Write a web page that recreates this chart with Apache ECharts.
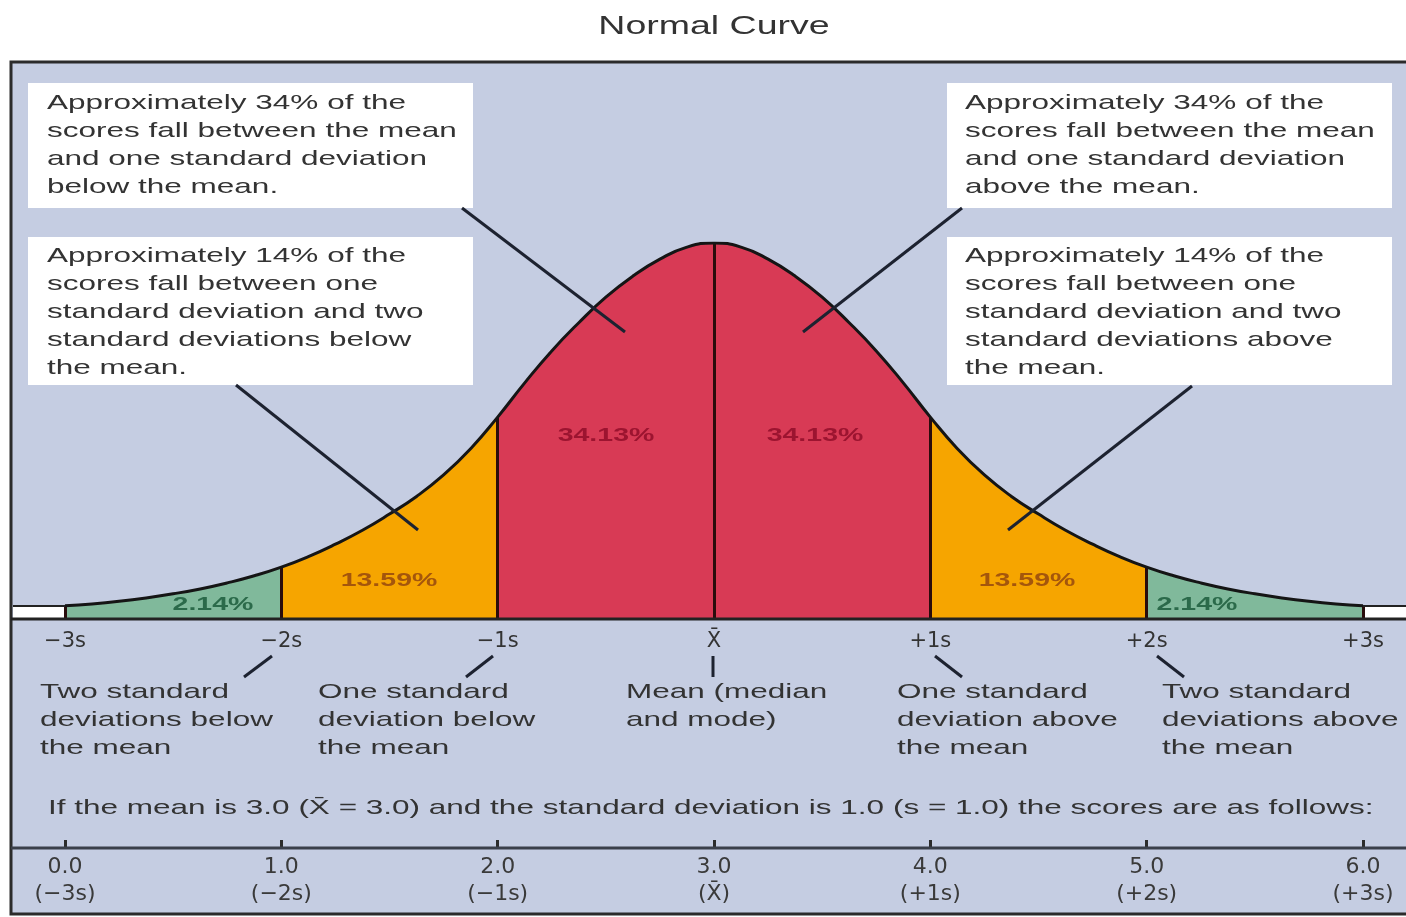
<!DOCTYPE html>
<html>
<head>
<meta charset="utf-8">
<title>Normal Curve</title>
<script src="https://cdn.jsdelivr.net/npm/echarts@6/dist/echarts.min.js"></script>
<style>
  html, body { margin: 0; padding: 0; background: #ffffff; }
  #chart_container { width: 1406px; height: 917px; }
</style>
</head>
<body>
<div id="chart_container"></div>
<script>
"use strict";

// curve: x in standard deviations, height in % of the peak
const sdSteps = [-3, -2.875, -2.75, -2.625, -2.5, -2.375, -2.25, -2.125,
                 -2, -1.875, -1.75, -1.625, -1.5, -1.375, -1.25, -1.125,
                 -1, -0.875, -0.75, -0.625, -0.5, -0.375, -0.25, -0.125,
                 0,
                 0.125, 0.25, 0.375, 0.5, 0.625, 0.75, 0.875,
                 1, 1.125, 1.25, 1.375, 1.5, 1.625, 1.75, 1.875,
                 2, 2.125, 2.25, 2.375, 2.5, 2.625, 2.75, 2.875, 3];
const curveHeight = [3.5, 4.0, 4.7, 5.6, 6.7, 8.0, 9.6, 11.5,
                     13.8, 16.6, 19.9, 23.6, 27.9, 32.6, 38.3, 45.3,
                     53.7, 62.8, 71.3, 78.8, 85.6, 91.2, 95.7, 98.9,
                     100,
                     98.9, 95.7, 91.2, 85.6, 78.8, 71.3, 62.8,
                     53.7, 45.3, 38.3, 32.6, 27.9, 23.6, 19.9, 16.6,
                     13.8, 11.5, 9.6, 8.0, 6.7, 5.6, 4.7, 4.0, 3.5];

// shaded bands between the standard deviation marks
const segmentEdges = [-3, -2, -1, 0, 1, 2, 3];
const segmentPercents = ['2.14%', '13.59%', '34.13%', '34.13%', '13.59%', '2.14%'];

// tick labels
const sdLabels = ['\u22123s', '\u22122s', '\u22121s', 'X\u0304', '+1s', '+2s', '+3s'];
const scoreTicks = ['0.0', '1.0', '2.0', '3.0', '4.0', '5.0', '6.0'];
const scoreSubLabels = ['(\u22123s)', '(\u22122s)', '(\u22121s)', '(X\u0304)', '(+1s)', '(+2s)', '(+3s)'];

// notes
const titleText = 'Normal Curve';
const boxNotes = [
    'Approximately 34% of the\nscores fall between the mean\nand one standard deviation\nbelow the mean.',
    'Approximately 14% of the\nscores fall between one\nstandard deviation and two\nstandard deviations below\nthe mean.',
    'Approximately 34% of the\nscores fall between the mean\nand one standard deviation\nabove the mean.',
    'Approximately 14% of the\nscores fall between one\nstandard deviation and two\nstandard deviations above\nthe mean.'
];
const markNotes = [
    'Two standard\ndeviations below\nthe mean',
    'One standard\ndeviation below\nthe mean',
    'Mean (median\nand mode)',
    'One standard\ndeviation above\nthe mean',
    'Two standard\ndeviations above\nthe mean'
];
const scoreNote = 'If the mean is 3.0 (X\u0304 = 3.0) and the standard deviation is 1.0 (s = 1.0) the scores are as follows:';


const bandColors = ['#80b99b', '#f6a500', '#d83a55', '#d83a55', '#f6a500', '#80b99b'];
const bandLabelColors = ['#2b6a4a', '#a4560c', '#9c1430', '#9c1430', '#a4560c', '#2b6a4a'];
const fontTxt = '"Liberation Sans", Arial, sans-serif';
const stretch = 1.5;   // the source lettering is drawn wide
const ink = '#333333';

let myChart;

let txt = (x, y, text, font, extra) => ({
    type: 'text', x: x, y: y, scaleX: stretch, z: 30, silent: true,
    style: Object.assign({
        text: text, font: font, fill: ink,
        textAlign: 'left', align: 'left',
        textVerticalAlign: 'top', verticalAlign: 'top',
        lineHeight: 28
    }, (extra && extra.style) || {})
});

let seg = (x1, y1, x2, y2, w, c) => ({
    type: 'line', z: 25, silent: true,
    shape: { x1: x1, y1: y1, x2: x2, y2: y2 },
    style: { stroke: c || '#1d2230', lineWidth: w || 3 }
});

let buildOption = () => {
    let pts = sdSteps.map((s, i) => [s, curveHeight[i]]);
    let heightAt = (s) => curveHeight[sdSteps.indexOf(s)];

    let bands = segmentPercents.map((p, k) => ({
        type: 'line', name: 'band' + k, smooth: true, symbol: 'none', silent: true,
        data: pts.filter(d => d[0] >= segmentEdges[k] && d[0] <= segmentEdges[k + 1]),
        lineStyle: { width: 0 },
        areaStyle: { color: bandColors[k], opacity: 1 },
        z: 2
    }));

    let outline = {
        type: 'line', name: 'curve', smooth: true, symbol: 'none', silent: true,
        data: pts,
        lineStyle: { color: '#151515', width: 3 },
        z: 5,
        markLine: {
            silent: true, symbol: ['none', 'none'], animation: false,
            label: { show: false },
            lineStyle: { color: '#2a0c0c', width: 3, type: 'solid' },
            data: segmentEdges.map(s => [{ coord: [s, 0] }, { coord: [s, heightAt(s)] }])
        }
    };

    // where the band labels sit in the source
    let bandLabelPos = [[213, 605], [389, 581], [606, 436], [815, 436], [1027, 581], [1197, 605]];
    let bandLabels = segmentPercents.map((p, k) => txt(bandLabelPos[k][0], bandLabelPos[k][1], p,
        'bold 19px ' + fontTxt,
        { style: { fill: bandLabelColors[k], textAlign: 'center', align: 'center', textVerticalAlign: 'middle', verticalAlign: 'middle' } }));

    let noteX = [40, 318, 626, 897, 1162];

    let graphics = [
        // panel
        { type: 'rect', z: -10, silent: true, shape: { x: 11, y: 62, width: 1420, height: 852 },
          style: { fill: '#c5cde2', stroke: '#2b2b2b', lineWidth: 3 } },
        txt(714, 27, titleText, '25px ' + fontTxt,
            { style: { textAlign: 'center', align: 'center', textVerticalAlign: 'middle', verticalAlign: 'middle' } }),

        // note boxes
        { type: 'rect', z: 1, silent: true, shape: { x: 28, y: 83, width: 445, height: 125 }, style: { fill: '#ffffff' } },
        { type: 'rect', z: 1, silent: true, shape: { x: 28, y: 237, width: 445, height: 148 }, style: { fill: '#ffffff' } },
        { type: 'rect', z: 1, silent: true, shape: { x: 947, y: 83, width: 445, height: 125 }, style: { fill: '#ffffff' } },
        { type: 'rect', z: 1, silent: true, shape: { x: 947, y: 237, width: 445, height: 148 }, style: { fill: '#ffffff' } },
        txt(47, 89, boxNotes[0], '21px ' + fontTxt),
        txt(47, 242, boxNotes[1], '21px ' + fontTxt),
        txt(965, 89, boxNotes[2], '21px ' + fontTxt),
        txt(965, 242, boxNotes[3], '21px ' + fontTxt),

        // pointers from the boxes into the curve
        seg(462, 208, 625, 332),
        seg(962, 208, 803, 332),
        seg(236, 385, 418, 530),
        seg(1192, 386, 1008, 530),

        // baseline, with the white ends past +/-3s
        { type: 'rect', z: 3, silent: true, shape: { x: 13, y: 606, width: 52, height: 12 },
          style: { fill: '#ffffff' } },
        { type: 'rect', z: 3, silent: true, shape: { x: 1363, y: 606, width: 50, height: 12 },
          style: { fill: '#ffffff' } },
        seg(13, 606, 65, 606, 2, '#222'),
        seg(1363, 606, 1406, 606, 2, '#222'),
        seg(11, 619, 1406, 619, 3, '#222'),

        // strokes from the marks down to their notes
        seg(272, 656, 244, 677),
        seg(493, 656, 466, 677),
        seg(713, 656, 713, 677),
        seg(935, 656, 962, 677),
        seg(1157, 656, 1184, 677),

        txt(48, 794, scoreNote, '21px ' + fontTxt),
        seg(11, 848, 1406, 848, 3, '#3a3f4a')
    ];
    markNotes.forEach((n, i) => graphics.push(txt(noteX[i], 678, n, '21px ' + fontTxt)));
    bandLabels.forEach(b => graphics.push(b));

    return {
        animation: false,
        backgroundColor: '#ffffff',
        grid: [
            { left: 65, right: 43, top: 243, bottom: 298 },
            { left: 65, right: 43, top: 847, height: 1 }
        ],
        xAxis: [
            {
                type: 'value', gridIndex: 0, min: -3, max: 3, interval: 1,
                axisLine: { show: false }, axisTick: { show: false }, splitLine: { show: false },
                axisLabel: {
                    margin: 12, color: ink, fontSize: 21, fontFamily: 'DejaVu Sans',
                    formatter: (v) => sdLabels[Math.round(v) + 3]
                }
            },
            {
                type: 'value', gridIndex: 1, min: 0, max: 6, interval: 1,
                axisLine: { show: false }, splitLine: { show: false },
                axisTick: { show: true, inside: true, length: 8, lineStyle: { color: '#2b2b2b', width: 3 } },
                axisLabel: {
                    margin: 6, color: '#3a3a3a',
                    formatter: (v) => '{a|' + scoreTicks[Math.round(v)] + '}\n{a|' + scoreSubLabels[Math.round(v)] + '}',
                    rich: { a: { fontSize: 22, fontFamily: 'DejaVu Sans', lineHeight: 27, color: '#3a3a3a' } }
                }
            }
        ],
        yAxis: [
            { type: 'value', gridIndex: 0, min: 0, max: 100, show: false },
            { type: 'value', gridIndex: 1, min: 0, max: 1, show: false }
        ],
        series: bands.concat([outline]),
        graphic: { elements: graphics }
    };
};

let pageLoaded = () => {
    let chartDom = document.getElementById('chart_container');
    myChart = echarts.init(chartDom);
    myChart.setOption(buildOption());
    console.log(`pageLoaded() complete`);
};

window.addEventListener('load', pageLoaded, false);
</script>
</body>
</html>
